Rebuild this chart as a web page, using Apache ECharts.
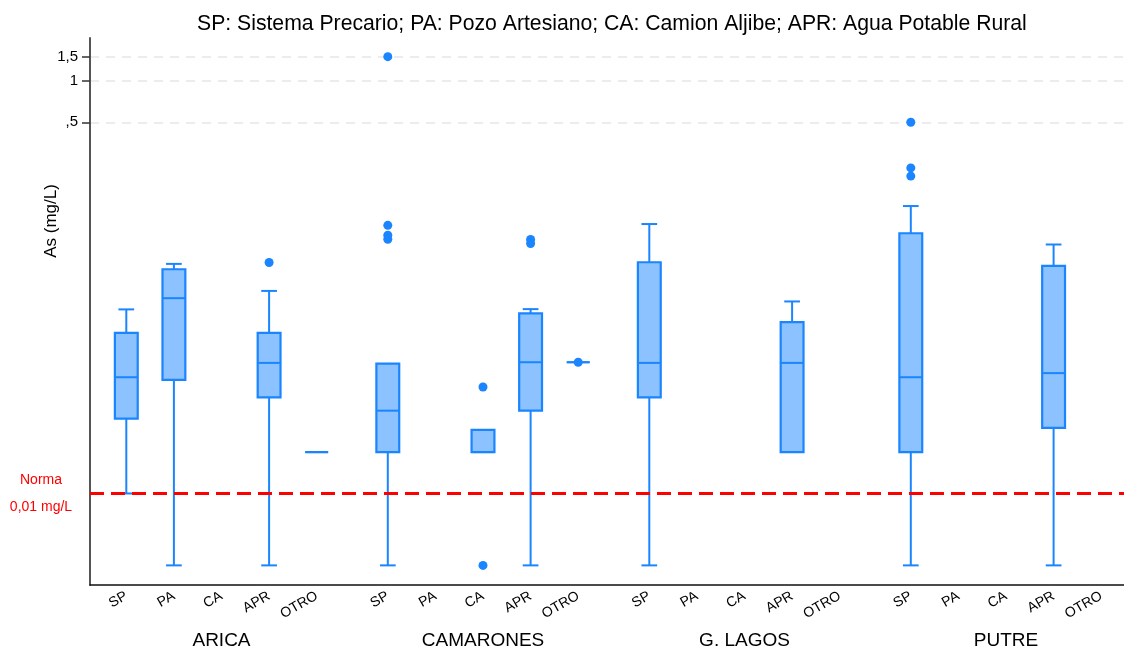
<!DOCTYPE html>
<html>
<head>
<meta charset="utf-8">
<script src="https://cdn.jsdelivr.net/npm/echarts@6/dist/echarts.min.js"></script>
<style>
  html, body { margin: 0; padding: 0; background: #fff; }
  #chart { width: 1124px; height: 650px; }
</style>
</head>
<body>
<div id="chart"></div>
<script>
// textos
const titleText = 'SP: Sistema Precario; PA: Pozo Artesiano; CA: Camion Aljibe; APR: Agua Potable Rural';
const yName = 'As (mg/L)';
const normaLabel = 'Norma\n0,01 mg/L';
const categories = ['SP', 'PA', 'CA', 'APR', 'OTRO'];
const groups = ['ARICA', 'CAMARONES', 'G. LAGOS', 'PUTRE'];

// eje y (log)
const yTickValues = [0.5, 1, 1.5];
const yTickLabels = [',5', '1', '1,5'];
const yMin = 0.000216;
const yMax = 2.05;
const normaValue = 0.001;

// cajas: [tipo, min, q1, mediana, q3, max]
const aricaBoxes = [
  ['SP', 0.001, 0.0035, 0.0070, 0.0147, 0.0218],
  ['PA', 0.0003, 0.0067, 0.0263, 0.0427, 0.0467],
  ['APR', 0.0003, 0.0050, 0.0089, 0.0147, 0.0297],
  ['OTRO', 0.002, 0.002, 0.002, 0.002, 0.002]
];
const camaronesBoxes = [
  ['SP', 0.0003, 0.0020, 0.0040, 0.0088, 0.0088],
  ['CA', 0.0020, 0.0020, 0.0020, 0.0029, 0.0029],
  ['APR', 0.0003, 0.0040, 0.0090, 0.0204, 0.0219],
  ['OTRO', 0.009, 0.009, 0.009, 0.009, 0.009]
];
const lagosBoxes = [
  ['SP', 0.0003, 0.0050, 0.0089, 0.048, 0.091],
  ['APR', 0.0020, 0.0020, 0.0089, 0.0176, 0.0249]
];
const putreBoxes = [
  ['SP', 0.0003, 0.0020, 0.0070, 0.078, 0.123],
  ['APR', 0.0003, 0.0030, 0.0075, 0.0451, 0.0646]
];

// valores atipicos: [tipo, valor]
const aricaOutliers = [['APR', 0.0478]];
const camaronesOutliers = [
  ['SP', 1.5], ['SP', 0.089], ['SP', 0.0755], ['SP', 0.0706],
  ['CA', 0.00595], ['CA', 0.0003],
  ['APR', 0.0702], ['APR', 0.0657],
  ['OTRO', 0.009]
];
const lagosOutliers = [];
const putreOutliers = [['SP', 0.5], ['SP', 0.233], ['SP', 0.203]];

const boxSets = [aricaBoxes, camaronesBoxes, lagosBoxes, putreBoxes];
const outlierSets = [aricaOutliers, camaronesOutliers, lagosOutliers, putreOutliers];

const FONT = "'Liberation Sans', Arial, Helvetica, sans-serif";
const BLUE = '#1a85ff';
const FILL = '#8cc2ff';

function renderBox(params, api) {
  const c = api.value(0);
  const lo = api.coord([c, api.value(1)]);
  const q1 = api.coord([c, api.value(2)]);
  const md = api.coord([c, api.value(3)]);
  const q3 = api.coord([c, api.value(4)]);
  const hi = api.coord([c, api.value(5)]);
  const band = api.size([1, 0])[0];
  const half = band * 0.24;
  const cap = band * 0.165;
  const x = md[0];
  const st = { stroke: BLUE, lineWidth: 2 };
  const kids = [];
  if (Math.abs(lo[1] - q1[1]) > 0.5) {
    kids.push({ type: 'line', shape: { x1: x, y1: q1[1], x2: x, y2: lo[1] }, style: st });
    kids.push({ type: 'line', shape: { x1: x - cap, y1: lo[1], x2: x + cap, y2: lo[1] }, style: st });
  }
  if (Math.abs(hi[1] - q3[1]) > 0.5) {
    kids.push({ type: 'line', shape: { x1: x, y1: q3[1], x2: x, y2: hi[1] }, style: st });
    kids.push({ type: 'line', shape: { x1: x - cap, y1: hi[1], x2: x + cap, y2: hi[1] }, style: st });
  }
  kids.push({
    type: 'rect',
    shape: { x: x - half, y: q3[1], width: half * 2, height: q1[1] - q3[1] },
    style: { fill: FILL, stroke: BLUE, lineWidth: 2.2 }
  });
  kids.push({ type: 'line', shape: { x1: x - half, y1: md[1], x2: x + half, y2: md[1] }, style: st });
  return { type: 'group', children: kids };
}

function tickLabel(v) {
  let k = 0;
  yTickValues.forEach(function (t, j) {
    if (Math.abs(t - v) < Math.abs(yTickValues[k] - v)) k = j;
  });
  return yTickLabels[k];
}

const grid = [{ left: 90, right: 0, top: 38, bottom: 65, outerBoundsMode: 'none' }];
const xAxis = [{
  type: 'value', gridIndex: 0, min: 0, max: 1,
  axisLine: { show: true, onZero: false, lineStyle: { color: '#111', width: 1.5 } },
  axisTick: { show: false }, axisLabel: { show: false }, splitLine: { show: false }
}];
const yAxis = [{
  type: 'log', gridIndex: 0, min: yMin, max: yMax,
  axisLine: { show: true, onZero: false, lineStyle: { color: '#555', width: 2 } },
  axisTick: { show: true, length: 8, customValues: yTickValues, lineStyle: { color: '#333', width: 1.5 } },
  axisLabel: { customValues: yTickValues, formatter: tickLabel, fontSize: 15, color: '#000', margin: 12, fontFamily: FONT },
  splitLine: { show: true, lineStyle: { color: '#e6e6e6', width: 1.5, type: [9, 7] } },
  minorTick: { show: false }
}];
// linea de la norma: de extremo a extremo del eje x principal (0..1)
const series = [{
  type: 'line', xAxisIndex: 0, yAxisIndex: 0, z: 10, silent: true,
  symbol: 'circle', symbolSize: 0, showSymbol: true,
  lineStyle: { color: '#ff0000', width: 3, type: [14, 7] },
  itemStyle: { color: '#ff0000' },
  data: [
    {
      value: [0, normaValue],
      label: {
        show: true, position: 'left', formatter: normaLabel, align: 'center', distance: 49,
        color: '#ff0000', fontSize: 14, lineHeight: 27, fontFamily: FONT
      }
    },
    [1, normaValue]
  ]
}];

groups.forEach(function (g, i) {
  grid.push({ left: 102.5 + i * 261.5, width: 238, top: 38, bottom: 65, outerBoundsMode: 'none' });
  xAxis.push({
    type: 'category', gridIndex: i + 1, data: categories, boundaryGap: true,
    axisLine: { show: false }, axisTick: { show: false }, splitLine: { show: false },
    axisLabel: { interval: 0, rotate: 30, margin: 10, fontSize: 14, color: '#000', fontFamily: FONT },
    name: g, nameLocation: 'middle', nameGap: 46,
    nameTextStyle: { fontSize: 19, color: '#000', fontFamily: FONT }
  });
  yAxis.push({ type: 'log', gridIndex: i + 1, min: yMin, max: yMax, show: false });
  series.push({
    type: 'custom', xAxisIndex: i + 1, yAxisIndex: i + 1,
    data: boxSets[i], encode: { x: 0, y: [1, 2, 3, 4, 5] },
    renderItem: renderBox, z: 3
  });
  series.push({
    type: 'scatter', xAxisIndex: i + 1, yAxisIndex: i + 1,
    data: outlierSets[i], symbolSize: 9, itemStyle: { color: BLUE, opacity: 1 }, z: 4
  });
});

const chart = echarts.init(document.getElementById('chart'));
chart.setOption({
  animation: false,
  backgroundColor: '#fff',
  title: {
    text: titleText, left: 192, top: 9,
    textStyle: { fontSize: 21.2, fontWeight: 'normal', color: '#000', fontFamily: FONT }
  },
  graphic: [{
    type: 'text', x: 51, y: 221, rotation: Math.PI / 2,
    style: {
      text: yName, fontSize: 17, fontFamily: FONT, fill: '#000',
      align: 'center', verticalAlign: 'middle', textAlign: 'center', textVerticalAlign: 'middle'
    }
  }],
  grid: grid,
  xAxis: xAxis,
  yAxis: yAxis,
  series: series
});
</script>
</body>
</html>
